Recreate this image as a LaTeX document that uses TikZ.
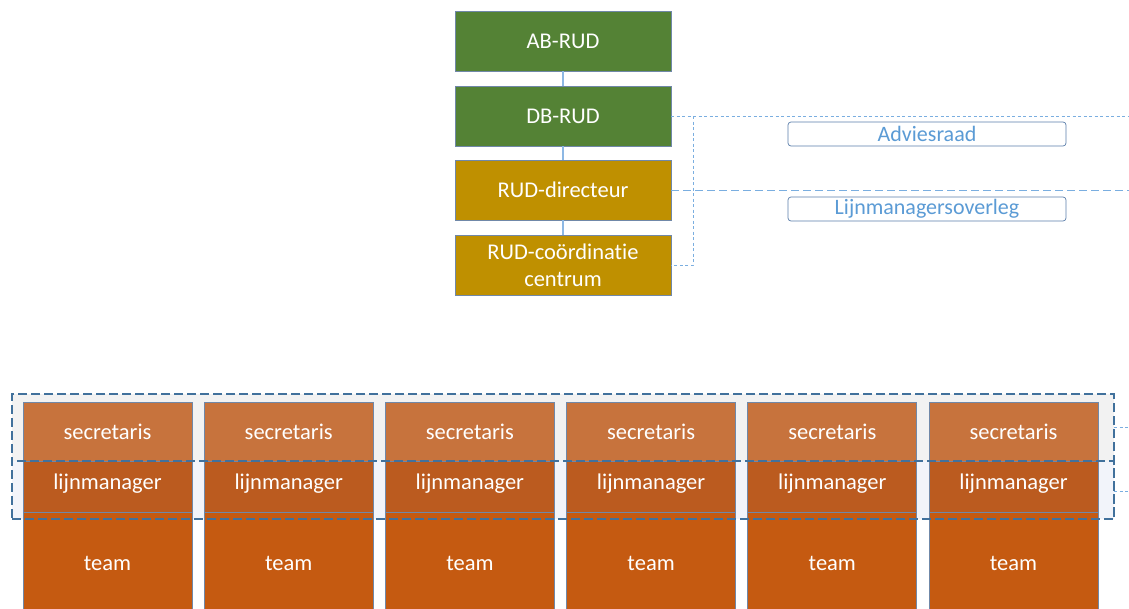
\documentclass[tikz,border=0pt]{standalone}
\usepackage{fontspec}
\setmainfont[Ligatures=CommonOff]{Carlito}
\usetikzlibrary{fit}
\definecolor{cgreen}{HTML}{548235}
\definecolor{cgold}{HTML}{BF9000}
\definecolor{csec}{HTML}{C7733D}
\definecolor{clijn}{HTML}{BB5B1F}
\definecolor{cteam}{HTML}{C55A11}
\definecolor{boxline}{HTML}{7088A8}
\definecolor{conn}{HTML}{8DB8E4}
\definecolor{dconn}{HTML}{7AAEE0}
\definecolor{grpline}{HTML}{41719C}
\definecolor{grpfill}{HTML}{F2F2F2}
\definecolor{grpfill2}{HTML}{F2F4FA}
\definecolor{advtext}{HTML}{5B9BD5}
\definecolor{advline}{HTML}{5A7DAA}
\begin{document}
\begin{tikzpicture}[x=1pt,y=-1pt,
  lbl/.style={text=white,inner sep=0pt,font=\fontsize{22.5}{27}\selectfont,align=center},
  orgbox/.style={draw=boxline,line width=0.7pt,text=white,inner sep=0pt,outer sep=0pt,
    anchor=north west,align=center,font=\fontsize{22.5}{27}\selectfont},
  topbox/.style={orgbox,minimum width=216pt,minimum height=60pt},
  colbox/.style={orgbox,minimum width=169pt},
  sidebox/.style={draw=advline,line width=0.7pt,rounded corners=3pt,fill=white,text=advtext,
    inner sep=0pt,outer sep=0pt,anchor=north west,minimum width=278pt,minimum height=24pt,
    font=\fontsize{22}{24}\selectfont},
  vconn/.style={draw=conn,line width=1.2pt},
  dotconn/.style={draw=dconn,line width=0.9pt,dash pattern=on 3pt off 2.5pt},
  longconn/.style={draw=dconn,line width=1pt,dash pattern=on 8pt off 4pt},
  grpborder/.style={draw=grpline,line width=1.4pt,dash pattern=on 9pt off 4pt}
]
\useasboundingbox (0,0) rectangle (1129,608);
\clip (0,0) rectangle (1129,608);

% top column
\node[topbox,fill=cgreen] (ab) at (455,11) {AB-RUD};
\node[topbox,fill=cgreen] (db) at (455,86) {DB-RUD};
\node[topbox,fill=cgold] (dir) at (455,160) {RUD-directeur};
\node[topbox,fill=cgold] (rcc) at (455,235) {RUD-coördinatie\\centrum};

\draw[vconn] (ab.south) -- (db.north);
\draw[vconn] (db.south) -- (dir.north);
\draw[vconn] (dir.south) -- (rcc.north);

% side boxes
\node[sidebox] (adv) at (788,122) {Adviesraad};
\node[sidebox] (lmo) at (788,197) {Lijnmanagersoverleg};

% dashed side connectors
\coordinate (edge1) at (1129,116);
\coordinate (edge2) at (1129,190);
\coordinate (bend) at (693,116);
\draw[dotconn] (db.east) -- (edge1);
\draw[dotconn] (bend) -- (bend |- rcc.east) -- (rcc.east);
\draw[longconn] (dir.east) -- (edge2);

% group background
\fill[grpfill] (12,394) rectangle (1114,519);
\fill[grpfill2] (12,461) rectangle (1114,519);

% columns
\foreach \i in {0,...,5}{
  \pgfmathsetmacro{\xx}{23+181.2*\i}
  \node[colbox,fill=csec,minimum height=59pt] (sec\i) at (\xx,402) {secretaris};
  \node[colbox,fill=clijn,minimum height=51pt] (lm\i) at (\xx,461) {};
  \node[lbl] (lt\i) at (\xx+84.5,483.5) {lijnmanager};
  \node[colbox,fill=cteam,minimum height=110pt] (tm\i) at (\xx,512) {};
  \node[lbl] (tt\i) at (\xx+84.5,563) {team};
}

% group borders
\node[grpborder,inner sep=0pt,outer sep=0pt,fit={(12,394) (1114,519)}] (grp) {};
\draw[grpborder] (17,461) -- (1114,461) -- (1114,519);
\coordinate (stub1) at (1129,427);
\coordinate (stub2) at (1129,491);
\draw[dotconn] (grp.east |- stub1) -- (stub1);
\draw[dotconn] (grp.east |- stub2) -- (stub2);
\end{tikzpicture}
\end{document}
